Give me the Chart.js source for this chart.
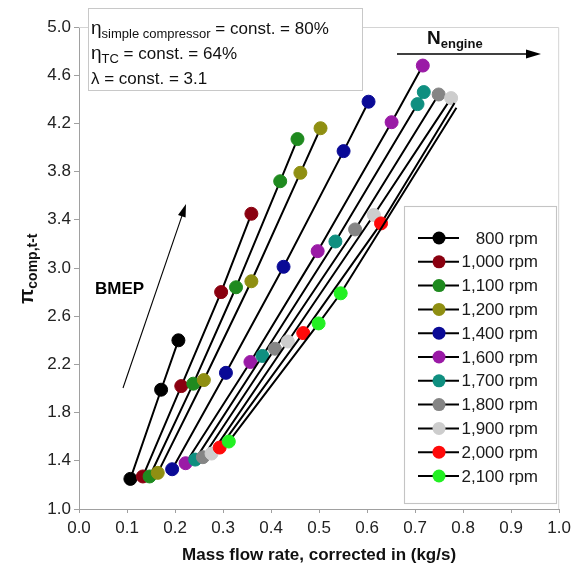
<!DOCTYPE html>
<html>
<head>
<meta charset="utf-8">
<script src="https://cdn.jsdelivr.net/npm/chart.js@4.4.0/dist/chart.umd.min.js"></script>
<style>
  html, body { margin: 0; padding: 0; background: #fff; }
  #wrap { width: 576px; height: 570px; }
</style>
</head>
<body>
<div id="wrap"><canvas id="chart" width="576" height="570"></canvas></div>
<script>
// ===========================================================
// compressor pressure ratio vs corrected mass flow (per rpm)
// ===========================================================

const rpmLabels = ["800 rpm", "1,000 rpm", "1,100 rpm", "1,200 rpm", "1,400 rpm", "1,600 rpm",
                   "1,700 rpm", "1,800 rpm", "1,900 rpm", "2,000 rpm", "2,100 rpm"];
const xTicks = [0.0, 0.1, 0.2, 0.3, 0.4, 0.5, 0.6, 0.7, 0.8, 0.9, 1.0];
const yTicks = [1.0, 1.4, 1.8, 2.2, 2.6, 3.0, 3.4, 3.8, 4.2, 4.6, 5.0];

// corrected mass flow (kg/s) / total-total pressure ratio
const flow800  = [0.107, 0.171, 0.207];
const pi800    = [1.25, 1.99, 2.40];
const flow1000 = [0.133, 0.213, 0.296, 0.359];
const pi1000   = [1.27, 2.02, 2.80, 3.45];
const flow1100 = [0.147, 0.238, 0.327, 0.419, 0.455];
const pi1100   = [1.27, 2.04, 2.84, 3.72, 4.07];
const flow1200 = [0.164, 0.260, 0.359, 0.461, 0.503];
const pi1200   = [1.30, 2.07, 2.89, 3.79, 4.16];
const flow1400 = [0.194, 0.306, 0.426, 0.551, 0.603];
const pi1400   = [1.33, 2.13, 3.01, 3.97, 4.38];
const flow1600 = [0.222, 0.357, 0.497, 0.651, 0.716];
const pi1600   = [1.38, 2.22, 3.14, 4.21, 4.68];
const flow1700 = [0.242, 0.382, 0.534, 0.705, 0.718];
const pi1700   = [1.41, 2.27, 3.22, 4.36, 4.46];
const flow1800 = [0.258, 0.408, 0.575, 0.749];
const pi1800   = [1.43, 2.33, 3.32, 4.44];
const flow1900 = [0.276, 0.435, 0.614, 0.775];
const pi1900   = [1.46, 2.39, 3.44, 4.41];
const flow2000 = [0.293, 0.467, 0.629, 0.782];
const pi2000   = [1.51, 2.46, 3.37, 4.37];
const flow2100 = [0.312, 0.499, 0.545, 0.786];
const pi2100   = [1.56, 2.54, 2.79, 4.33];

const flows = [flow800, flow1000, flow1100, flow1200, flow1400, flow1600, flow1700, flow1800, flow1900, flow2000, flow2100];
const pis   = [pi800, pi1000, pi1100, pi1200, pi1400, pi1600, pi1700, pi1800, pi1900, pi2000, pi2100];

const markerColors = ["#000000", "#8a0010", "#1f8a1f", "#8f8f12", "#0a0a96", "#9a1aa6",
                      "#0f8f80", "#858585", "#cdcdcd", "#ff0a0a", "#22f022"];
// last point of these runs sits under the 1,900 rpm marker
const hiddenEnd = [9, 10];

const FONT = "'Liberation Sans', Arial, sans-serif";

/* ---------- datasets ---------- */
const datasets = flows.map((fl, i) => ({
  label: rpmLabels[i],
  data: fl.map((x, k) => ({ x, y: pis[i][k] })),
  borderColor: "#000",
  borderWidth: 2,
  showLine: true,
  pointRadius: fl.map((_, k) => (hiddenEnd.includes(i) && k === fl.length - 1) ? 0 : 6.5),
  pointBackgroundColor: markerColors[i],
  pointBorderColor: markerColors[i],
  pointBorderWidth: 1,
  order: 20 - i
}));

/* ---------- helpers ---------- */
function drawRuns(ctx, x, y, runs) {
  // runs: [text, size, dy, bold]
  let cx = x;
  runs.forEach(([t, size, dy, bold]) => {
    ctx.font = `${bold ? "bold " : ""}${size}px ${FONT}`;
    ctx.fillText(t, cx, y + dy);
    cx += ctx.measureText(t).width;
  });
}

function arrow(ctx, x1, y1, x2, y2, head, half, lw) {
  const a = Math.atan2(y2 - y1, x2 - x1);
  ctx.strokeStyle = "#000";
  ctx.fillStyle = "#000";
  ctx.lineWidth = lw;
  ctx.beginPath();
  ctx.moveTo(x1, y1);
  ctx.lineTo(x2 - Math.cos(a) * head * 0.8, y2 - Math.sin(a) * head * 0.8);
  ctx.stroke();
  ctx.beginPath();
  ctx.moveTo(x2, y2);
  ctx.lineTo(x2 - Math.cos(a) * head - Math.sin(a) * half, y2 - Math.sin(a) * head + Math.cos(a) * half);
  ctx.lineTo(x2 - Math.cos(a) * head + Math.sin(a) * half, y2 - Math.sin(a) * head - Math.cos(a) * half);
  ctx.closePath();
  ctx.fill();
}

/* ---------- frame under the data ---------- */
const framePlugin = {
  id: "frame",
  beforeDatasetsDraw(chart) {
    const { ctx, chartArea: a } = chart;
    ctx.save();
    ctx.strokeStyle = "#d4d4d4";
    ctx.lineWidth = 1;
    ctx.beginPath();
    ctx.moveTo(a.left, a.top + 0.5);
    ctx.lineTo(a.right - 0.5, a.top + 0.5);
    ctx.lineTo(a.right - 0.5, a.bottom);
    ctx.stroke();
    ctx.restore();
  }
};

/* ---------- annotations, legend, axis titles ---------- */
const overlayPlugin = {
  id: "overlay",
  afterDraw(chart) {
    const { ctx, chartArea: a } = chart;
    ctx.save();
    ctx.fillStyle = "#111";
    ctx.textBaseline = "alphabetic";
    ctx.textAlign = "left";

    // info box
    ctx.fillStyle = "#fff";
    ctx.fillRect(88, 8, 274, 82);
    ctx.strokeStyle = "#c8c8c8";
    ctx.lineWidth = 1;
    ctx.strokeRect(88.5, 8.5, 274, 82);
    ctx.fillStyle = "#111";
    drawRuns(ctx, 91, 34, [["\u03b7", 19, 0], ["simple compressor", 13, 4], [" = const. = 80%", 17, 0]]);
    drawRuns(ctx, 91, 59, [["\u03b7", 19, 0], ["TC", 13, 4], [" = const. = 64%", 17, 0]]);
    drawRuns(ctx, 91, 84, [["\u03bb = const. = 3.1", 17, 0]]);

    // engine speed arrow
    drawRuns(ctx, 427, 44, [["N", 19, 0, true], ["engine", 13, 4, true]]);
    arrow(ctx, 397, 54, 541, 54, 15, 4.5, 1.6);

    // BMEP arrow
    arrow(ctx, 123, 388, 186, 204, 13, 4, 1.1);
    drawRuns(ctx, 95, 294, [["BMEP", 17, 0, true]]);

    // legend
    const lx = 404, ly = 206, lw = 152, lh = 297;
    ctx.fillStyle = "#fff";
    ctx.fillRect(lx, ly, lw, lh);
    ctx.strokeStyle = "#c4c4c4";
    ctx.strokeRect(lx + 0.5, ly + 0.5, lw, lh);
    rpmLabels.forEach((lab, i) => {
      const y = 238 + i * 23.8;
      ctx.strokeStyle = "#000";
      ctx.lineWidth = 2;
      ctx.beginPath();
      ctx.moveTo(418, y);
      ctx.lineTo(459, y);
      ctx.stroke();
      ctx.fillStyle = markerColors[i];
      ctx.beginPath();
      ctx.arc(439, y, 6.5, 0, Math.PI * 2);
      ctx.fill();
      ctx.fillStyle = "#1a1a1a";
      ctx.font = `17px ${FONT}`;
      ctx.textAlign = "right";
      ctx.textBaseline = "middle";
      ctx.fillText(lab, 538, y + 1);
      ctx.textAlign = "left";
      ctx.textBaseline = "alphabetic";
    });

    // x title
    ctx.fillStyle = "#111";
    ctx.font = `bold 17px ${FONT}`;
    ctx.textAlign = "center";
    ctx.fillText("Mass flow rate, corrected in (kg/s)", (a.left + a.right) / 2, 560);

    // y title (rotated, with subscript)
    ctx.translate(33, 304);
    ctx.rotate(-Math.PI / 2);
    ctx.textAlign = "left";
    drawRuns(ctx, 0, 0, [["\u03c0", 20, 0, true], ["comp,t-t", 14, 4, true]]);
    ctx.restore();
  }
};

new Chart(document.getElementById("chart"), {
  type: "scatter",
  data: { datasets },
  options: {
    responsive: false,
    animation: false,
    devicePixelRatio: 1,
    layout: { padding: { top: 27, right: 13, left: 0, bottom: 0 } },
    plugins: { legend: { display: false }, tooltip: { enabled: false } },
    scales: {
      x: {
        type: "linear",
        min: 0, max: 1,
        afterBuildTicks: s => { s.ticks = xTicks.map(v => ({ value: v })); },
        afterFit: s => { s.height = 61; },
        ticks: {
          callback: v => Number(v).toFixed(1),
          color: "#222",
          font: { size: 17, family: FONT },
          padding: 5,
          maxRotation: 0,
          autoSkip: false
        },
        grid: { drawOnChartArea: false, drawTicks: true, tickLength: 4, color: "#a0a0a0" },
        border: { display: true, color: "#a0a0a0", width: 1 }
      },
      y: {
        type: "linear",
        min: 1, max: 5,
        afterBuildTicks: s => { s.ticks = yTicks.map(v => ({ value: v })); },
        afterFit: s => { s.width = 79; },
        ticks: {
          callback: v => Number(v).toFixed(1),
          color: "#222",
          font: { size: 17, family: FONT },
          padding: 3,
          autoSkip: false
        },
        grid: { drawOnChartArea: false, drawTicks: true, tickLength: 5, color: "#a0a0a0" },
        border: { display: true, color: "#a0a0a0", width: 1 }
      }
    }
  },
  plugins: [framePlugin, overlayPlugin]
});
</script>
</body>
</html>
